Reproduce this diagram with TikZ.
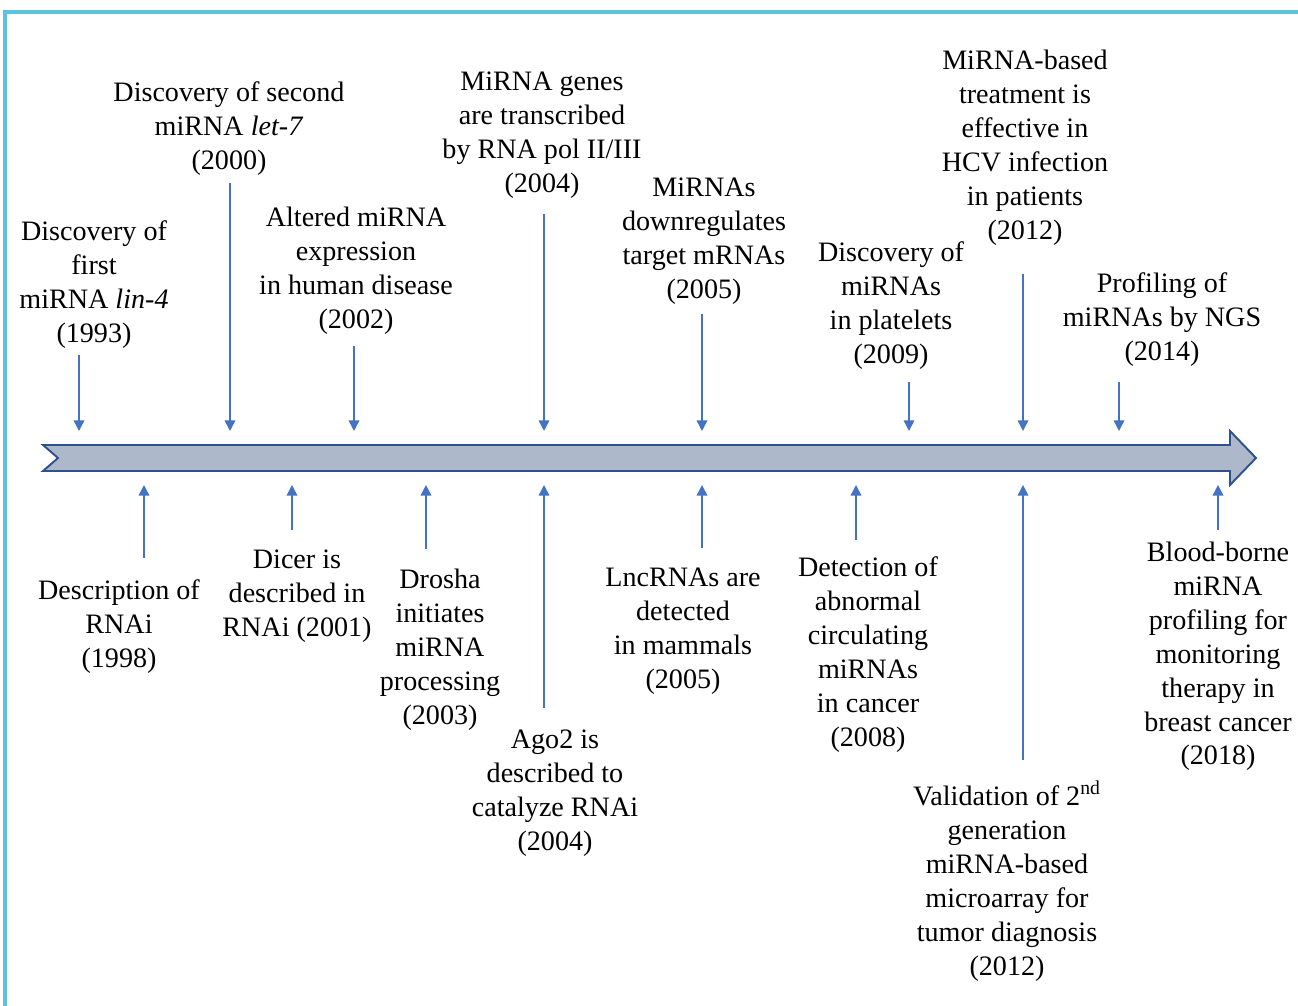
\documentclass[tikz,border=0pt]{standalone}
\usepackage{fontspec}
\setmainfont{Liberation Serif}
\usetikzlibrary{arrows.meta}
\definecolor{frameblue}{RGB}{91,196,220}
\definecolor{barfill}{RGB}{173,185,202}
\definecolor{bardraw}{RGB}{47,82,143}
\definecolor{pin}{RGB}{68,114,196}

\begin{document}
\begin{tikzpicture}[x=0.02cm,y=-0.02cm]

\tikzset{event/.style = {align=center,inner sep=0pt,font=\fontsize{16}{19.3}\selectfont}}
\tikzset{edge/.style = {draw=pin,line width=0.85pt,-{Triangle[length=6pt,width=6pt]}}}

\useasboundingbox (0,0) rectangle (1298,1006);
\draw[frameblue,line width=2pt] (5,1006) -- (5,12) -- (1298,12);

% timeline
\draw[bardraw,fill=barfill,line width=1.1pt] (43,445) -- (1230,445) -- (1230,431) -- (1256,458)
  -- (1230,485) -- (1230,471) -- (43,471) -- (58,458) -- cycle;

% events above
\node[event] (e1993) at (94,284.5) {Discovery of\\first\\miRNA \textit{lin-4}\\(1993)};
\node[event] (e2000) at (229,129) {Discovery of second\\miRNA \textit{let-7}\\(2000)};
\node[event] (e2002) at (356,270.5) {Altered miRNA\\expression\\in human disease\\(2002)};
\node[event] (e2004a) at (542,135.5) {MiRNA genes\\are transcribed\\by RNA pol II/III\\(2004)};
\node[event] (e2005a) at (704,241.5) {MiRNAs\\downregulates\\target mRNAs\\(2005)};
\node[event] (e2009) at (891,305.5) {Discovery of\\miRNAs\\in platelets\\(2009)};
\node[event] (e2012a) at (1025,147.5) {MiRNA-based\\treatment is\\effective in\\HCV infection\\in patients\\(2012)};
\node[event] (e2014) at (1162,319.5) {Profiling of\\miRNAs by NGS\\(2014)};

% events below
\node[event] (e1998) at (119,627) {Description of\\RNAi\\(1998)};
\node[event] (e2001) at (297,596) {Dicer is\\described in\\RNAi (2001)};
\node[event] (e2003) at (440,649.5) {Drosha\\initiates\\miRNA\\processing\\(2003)};
\node[event] (e2004b) at (555,793.5) {Ago2 is\\described to\\catalyze RNAi\\(2004)};
\node[event] (e2005b) at (683,631.5) {LncRNAs are\\detected\\in mammals\\(2005)};
\node[event] (e2008) at (868,654.5) {Detection of\\abnormal\\circulating\\miRNAs\\in cancer\\(2008)};
\node[event] (e2012b) at (1007,881) {Validation of 2\textsuperscript{nd}\\generation\\miRNA-based\\microarray for\\tumor diagnosis\\(2012)};
\node[event] (e2018) at (1218,656.5) {Blood-borne\\miRNA\\profiling for\\monitoring\\therapy in\\breast cancer\\(2018)};

\coordinate (s1993) at (79,355);    \coordinate (t1993) at (79,431);
\coordinate (s2000) at (230,183);   \coordinate (t2000) at (230,431);
\coordinate (s2002) at (354,346);   \coordinate (t2002) at (354,431);
\coordinate (s2004a) at (544,214);  \coordinate (t2004a) at (544,431);
\coordinate (s2005a) at (702,314);  \coordinate (t2005a) at (702,431);
\coordinate (s2009) at (909,382);   \coordinate (t2009) at (909,431);
\coordinate (s2012a) at (1023,274); \coordinate (t2012a) at (1023,431);
\coordinate (s2014) at (1119,382);  \coordinate (t2014) at (1119,431);

\coordinate (s1998) at (144,558);   \coordinate (t1998) at (144,485);
\coordinate (s2001) at (292,530);   \coordinate (t2001) at (292,485);
\coordinate (s2003) at (426,549);   \coordinate (t2003) at (426,485);
\coordinate (s2004b) at (544,708);  \coordinate (t2004b) at (544,485);
\coordinate (s2005b) at (702,548);  \coordinate (t2005b) at (702,485);
\coordinate (s2008) at (856,540);   \coordinate (t2008) at (856,485);
\coordinate (s2012b) at (1023,760); \coordinate (t2012b) at (1023,485);
\coordinate (s2018) at (1218,530);  \coordinate (t2018) at (1218,485);

\foreach \k in {1993,2000,2002,2004a,2005a,2009,2012a,2014,1998,2001,2003,2004b,2005b,2008,2012b,2018}
  \draw[edge] (s\k) -- (t\k);

\end{tikzpicture}
\end{document}
